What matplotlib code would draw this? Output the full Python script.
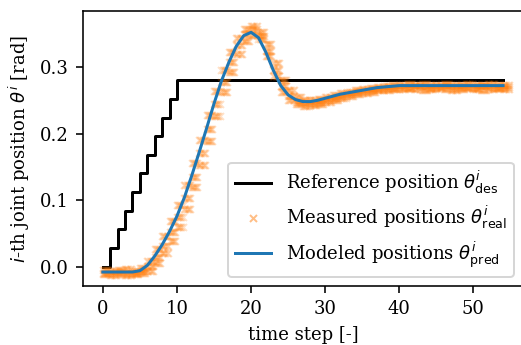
import numpy as np
import matplotlib
matplotlib.use("Agg")
import matplotlib.pyplot as plt

plt.rcParams['font.family'] = 'DejaVu Serif'
plt.rcParams['font.size'] = 9

time_steps = np.arange(55)

# reference: 10 equal increments, then hold
reference = [0.000, 0.028, 0.056, 0.084, 0.112, 0.140, 0.168, 0.196, 0.224, 0.252,
             0.280, 0.280, 0.280, 0.280, 0.280, 0.280, 0.280, 0.280, 0.280, 0.280,
             0.280, 0.280, 0.280, 0.280, 0.280, 0.280, 0.280, 0.280, 0.280, 0.280,
             0.280, 0.280, 0.280, 0.280, 0.280, 0.280, 0.280, 0.280, 0.280, 0.280,
             0.280, 0.280, 0.280, 0.280, 0.280, 0.280, 0.280, 0.280, 0.280, 0.280,
             0.280, 0.280, 0.280, 0.280, 0.280]

modeled = [-0.008, -0.008, -0.008, -0.008, -0.008, -0.006, 0.002, 0.016, 0.033, 0.053,
           0.076, 0.104, 0.137, 0.172, 0.208, 0.245, 0.279, 0.307, 0.331, 0.347,
           0.352, 0.344, 0.322, 0.295, 0.272, 0.258, 0.251, 0.248, 0.248, 0.250,
           0.253, 0.256, 0.259, 0.261, 0.263, 0.265, 0.267, 0.269, 0.270, 0.271,
           0.272, 0.272, 0.272, 0.272, 0.272, 0.272, 0.272, 0.272, 0.272, 0.272,
           0.272, 0.272, 0.272, 0.272, 0.272]

# measured runs (held constant over each time step)
meas_a = [-0.009, -0.010, -0.008, -0.009, -0.010, -0.007, 0.001, 0.014, 0.031, 0.052,
          0.074, 0.103, 0.135, 0.171, 0.207, 0.244, 0.278, 0.308, 0.333, 0.350,
          0.357, 0.347, 0.324, 0.296, 0.271, 0.256, 0.248, 0.246, 0.246, 0.248,
          0.251, 0.254, 0.257, 0.260, 0.262, 0.264, 0.266, 0.267, 0.268, 0.269,
          0.270, 0.269, 0.271, 0.270, 0.269, 0.270, 0.271, 0.269, 0.270, 0.270,
          0.269, 0.271, 0.270, 0.269, 0.270]
meas_b = [-0.005, -0.006, -0.005, -0.004, -0.006, -0.002, 0.008, 0.026, 0.046, 0.068,
          0.093, 0.122, 0.156, 0.191, 0.228, 0.264, 0.296, 0.322, 0.344, 0.357,
          0.362, 0.353, 0.334, 0.306, 0.281, 0.265, 0.255, 0.251, 0.250, 0.252,
          0.255, 0.258, 0.261, 0.263, 0.265, 0.267, 0.269, 0.270, 0.272, 0.273,
          0.273, 0.274, 0.273, 0.274, 0.273, 0.273, 0.274, 0.273, 0.273, 0.274,
          0.273, 0.273, 0.274, 0.273, 0.273]
meas_c = [-0.011, -0.012, -0.011, -0.012, -0.011, -0.010, -0.006, 0.006, 0.021, 0.039,
          0.060, 0.087, 0.119, 0.153, 0.189, 0.226, 0.262, 0.292, 0.319, 0.339,
          0.348, 0.342, 0.316, 0.286, 0.263, 0.250, 0.244, 0.242, 0.243, 0.245,
          0.248, 0.251, 0.254, 0.257, 0.259, 0.261, 0.263, 0.265, 0.266, 0.267,
          0.267, 0.268, 0.267, 0.266, 0.267, 0.268, 0.267, 0.266, 0.267, 0.268,
          0.267, 0.266, 0.267, 0.268, 0.267]
sub_steps = [0.0, 0.15, 0.3, 0.45, 0.6, 0.75]

fig = plt.figure(figsize=(521 / 144, 345 / 144), dpi=144)
ax = fig.add_axes([0.159, 0.171, 0.845, 0.797])

ax.plot(time_steps, reference, color='black', drawstyle='steps-post',
        label=r'Reference position $\theta^i_\mathrm{des}$')

first = True
for run in [meas_a, meas_b, meas_c]:
    for s in sub_steps:
        ax.plot(time_steps + s, run, linestyle='none', marker='x', markersize=3.5,
                color='C1', alpha=0.22,
                label=r'Measured positions $\theta^i_\mathrm{real}$' if first else None)
        first = False

ax.plot(time_steps, modeled, color='C0',
        label=r'Modeled positions $\theta^i_\mathrm{pred}$')

ax.set_xlim(-2.7, 56.7)
ax.set_ylim(-0.029, 0.384)
ax.set_xticks([0, 10, 20, 30, 40, 50])
ax.set_yticks([0.0, 0.1, 0.2, 0.3])
ax.set_xlabel('time step [-]')
ax.set_ylabel(r'$i$-th joint position $\theta^i$ [rad]')
leg = ax.legend(loc='lower right')
leg.legend_handles[1].set_alpha(0.5)

fig.savefig('out.png', dpi=144)
